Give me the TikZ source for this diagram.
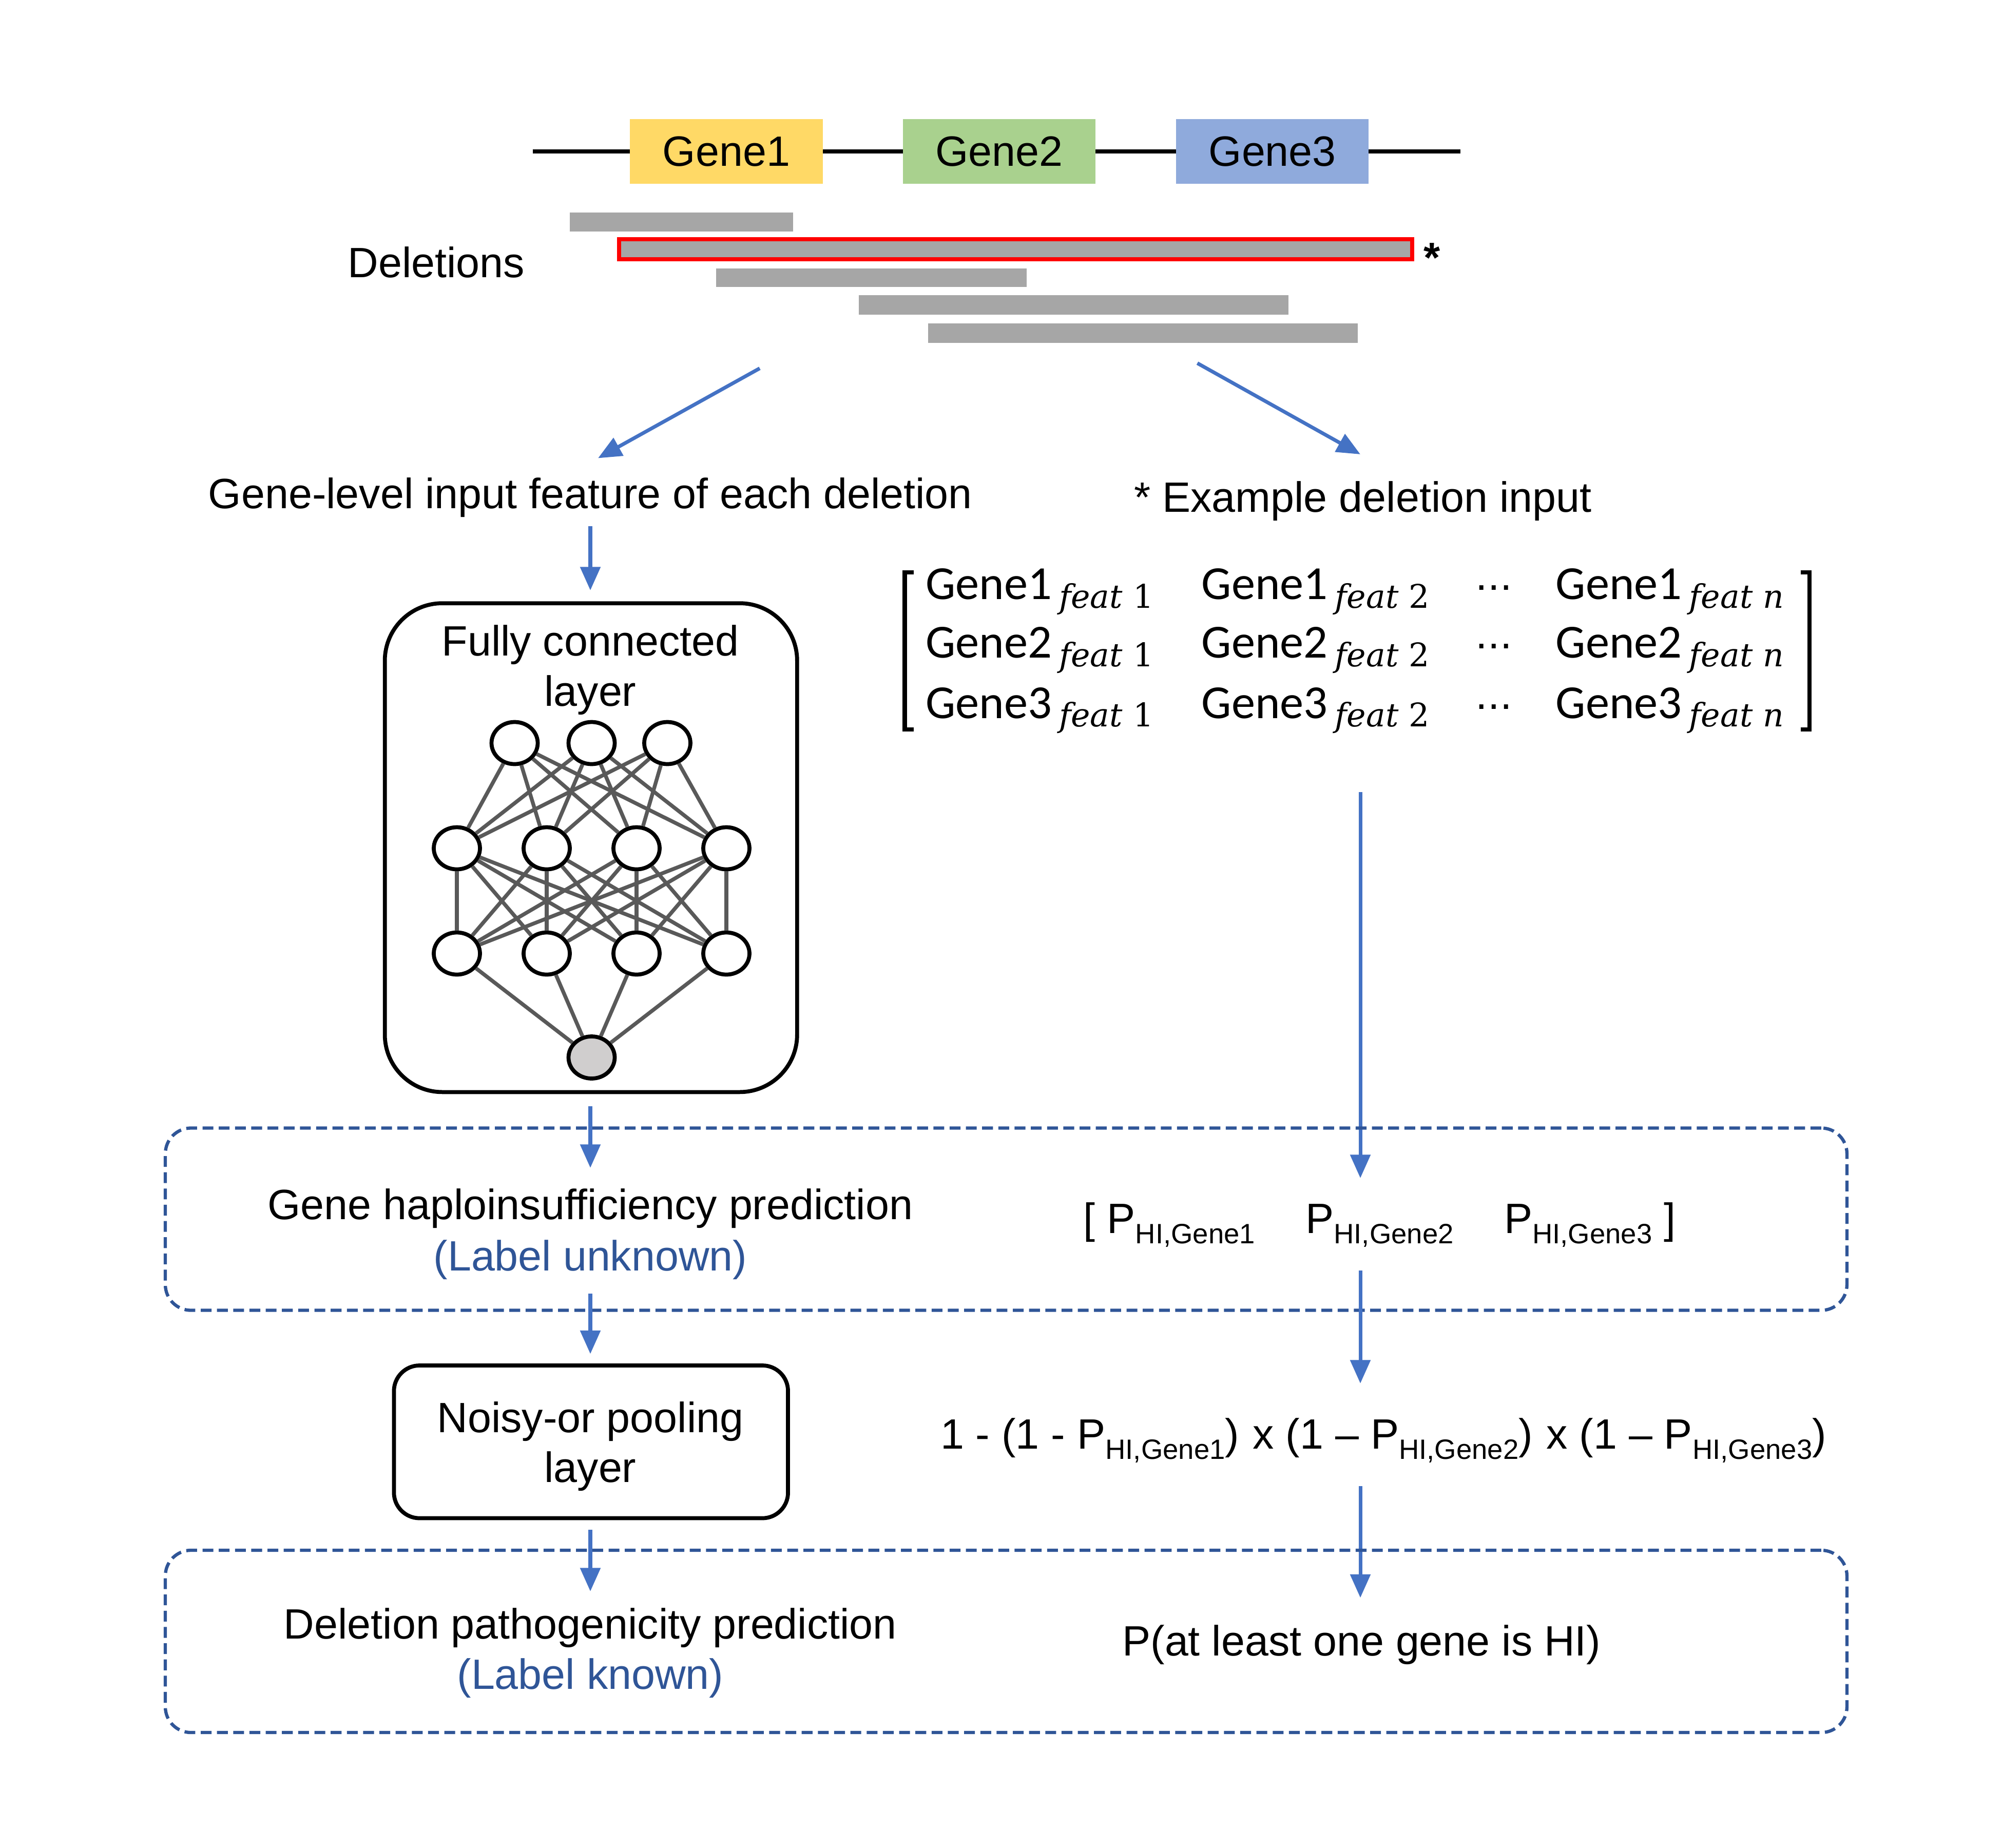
\documentclass[tikz,border=0pt]{standalone}
\usepackage{fontspec}
\setmainfont{Liberation Sans}
\newfontfamily\matfont{Carlito}
\newfontfamily\subfont{DejaVu Serif}
\usetikzlibrary{arrows.meta,shapes.geometric}
\definecolor{gyellow}{HTML}{FFD966}
\definecolor{ggreen}{HTML}{A9D18E}
\definecolor{gblue}{HTML}{8FAADC}
\definecolor{bargray}{HTML}{A6A6A6}
\definecolor{arrblue}{HTML}{4472C4}
\definecolor{dashblue}{HTML}{2F5597}
\definecolor{edgegray}{HTML}{595959}
\definecolor{outgray}{HTML}{D0CECE}
\newcommand\bodyfs{\fontsize{23.5}{28}\selectfont}
\newcommand\psub[1]{\raisebox{-5.7pt}{\fontsize{15.5}{17}\selectfont #1}}
\newcommand\ment[3]{{\matfont\fontsize{26.3}{30}\selectfont #1}\hspace{4pt}\raisebox{-4.8pt}{\subfont\fontsize{18}{20}\selectfont\textit{#2}\ #3}}
\begin{document}
\begin{tikzpicture}[x=0.025cm,y=-0.025cm,
  every node/.style={font=\bodyfs,inner sep=0pt},
  genebox/.style={minimum width=3.75cm,minimum height=1.25cm},
  arr/.style={draw=arrblue,line width=2pt,-{Triangle[length=13pt,width=11pt]}},
  nn/.style={ellipse,draw=black,line width=2.2pt,fill=white,minimum width=0.9cm,minimum height=0.82cm},
  nnedge/.style={draw=edgegray,line width=2.1pt},
  dashbox/.style={draw=dashblue,line width=1.8pt,dash pattern=on 6pt off 3pt,rounded corners=0.5cm,minimum width=32.75cm,minimum height=3.55cm},
  solidbox/.style={draw=black,line width=2.2pt},
  labtext/.style={text=dashblue}
]
\useasboundingbox (0,0) rectangle (1560,1440);

% chromosome and genes
\draw[line width=2.2pt] (415,118) -- (1138,118);
\node[genebox,fill=gyellow] (g1) at (566,118) {Gene1};
\node[genebox,fill=ggreen] (g2) at (778.5,118) {Gene2};
\node[genebox,fill=gblue] (g3) at (991.5,118) {Gene3};

% deletions
\node[anchor=base] (dellab) at (340,216) {Deletions};
\fill[bargray] (444,165.6) rectangle (618,180.3);
\filldraw[fill=bargray,draw=red,line width=2.2pt] (482.5,186.5) rectangle (1100.5,202);
\node[anchor=base,font=\bodyfs\bfseries] (star) at (1116,212) {*};
\fill[bargray] (558,209) rectangle (800,223.6);
\fill[bargray] (669,230) rectangle (1004,245);
\fill[bargray] (723,252) rectangle (1058,267);

% split arrows
\coordinate (a1s) at (592,287); \coordinate (a1e) at (466,357);
\coordinate (a2s) at (933,283); \coordinate (a2e) at (1060,354);
\draw[arr] (a1s) -- (a1e);
\draw[arr] (a2s) -- (a2e);

\node[anchor=base] (lefttitle) at (460,396) {Gene-level input feature of each deletion};
\node[anchor=base] (righttitle) at (1062,399) {* Example deletion input};

% fully connected layer
\coordinate (a3s) at (460,410); \coordinate (a3e) at (460,460);
\draw[arr] (a3s) -- (a3e);
\node[solidbox,rounded corners=1.12cm,minimum width=8.03cm,minimum height=9.52cm] (fc) at (460.5,660.5) {};
\node[anchor=base] (fct1) at (460,511) {Fully connected};
\node[anchor=base] (fct2) at (460,550) {layer};

\foreach \x [count=\i] in {401,461,520} \node[nn] (t\i) at (\x,579) {};
\foreach \x [count=\i] in {356,426,496,566} {\node[nn] (m\i) at (\x,661) {}; \node[nn] (b\i) at (\x,743) {};}
\node[nn,fill=outgray] (o) at (461,824) {};
\foreach \i in {1,2,3} \foreach \j in {1,...,4} \draw[nnedge] (t\i) -- (m\j);
\foreach \i in {1,...,4} {\foreach \j in {1,...,4} \draw[nnedge] (m\i) -- (b\j); \draw[nnedge] (b\i) -- (o);}

% matrix
\draw[line width=2.4pt] (712,446) -- (705,446) -- (705,568.4) -- (712,568.4);
\draw[line width=2.4pt] (1403,446) -- (1410,446) -- (1410,568.4) -- (1403,568.4);
\foreach \r/\y in {1/467,2/512.6,3/559.6} {
  \node[anchor=base west] (e\r1) at (721,\y) {\ment{Gene\r}{feat}{1}};
  \node[anchor=base west] (e\r2) at (936,\y) {\ment{Gene\r}{feat}{2}};
  \node[anchor=base] (d\r) at (1164,\y) {\textperiodcentered\kern-1pt\textperiodcentered\kern-1pt\textperiodcentered};
  \node[anchor=base west] (e\r3) at (1212,\y) {\ment{Gene\r}{feat}{\textit{n}}};
}

% right column arrows
\coordinate (r1s) at (1060,617); \coordinate (r1e) at (1060,918);
\draw[arr] (r1s) -- (r1e);

% box 1
\coordinate (a4s) at (460,862); \coordinate (a4e) at (460,910);
\draw[arr] (a4s) -- (a4e);
\node[dashbox] (box1) at (784,950) {};
\node[anchor=base] (ghp) at (460,950) {Gene haploinsufficiency prediction};
\node[anchor=base,labtext] (lu) at (460,990) {(Label unknown)};
\node[anchor=base] (pvec) at (1075,961) {[ P\psub{HI,Gene1}\hspace{28pt}P\psub{HI,Gene2}\hspace{28pt}P\psub{HI,Gene3} ]};

% noisy-or
\coordinate (a5s) at (460,1008); \coordinate (a5e) at (460,1055);
\draw[arr] (a5s) -- (a5e);
\coordinate (r2s) at (1060,990); \coordinate (r2e) at (1060,1078);
\draw[arr] (r2s) -- (r2e);
\node[solidbox,rounded corners=0.5cm,minimum width=7.675cm,minimum height=2.975cm] (noisy) at (460.5,1123.5) {};
\node[anchor=base] (nt1) at (460,1116) {Noisy-or pooling};
\node[anchor=base] (nt2) at (460,1155) {layer};
\node[anchor=base] (form) at (1078,1129) {1 - (1 - P\psub{HI,Gene1})\kern1pt{} x (1 – P\psub{HI,Gene2})\kern1pt{} x (1 – P\psub{HI,Gene3})};

% box 2
\coordinate (a6s) at (460,1192); \coordinate (a6e) at (460,1240);
\draw[arr] (a6s) -- (a6e);
\coordinate (r3s) at (1060,1158); \coordinate (r3e) at (1060,1245);
\draw[arr] (r3s) -- (r3e);
\node[dashbox] (box2) at (784,1279) {};
\node[anchor=base] (dpp) at (460,1277) {Deletion pathogenicity prediction};
\node[anchor=base,labtext] (lk) at (460,1316) {(Label known)};
\node[anchor=base] (pal) at (1061,1290) {P(at least one gene is HI)};
\end{tikzpicture}
\end{document}
